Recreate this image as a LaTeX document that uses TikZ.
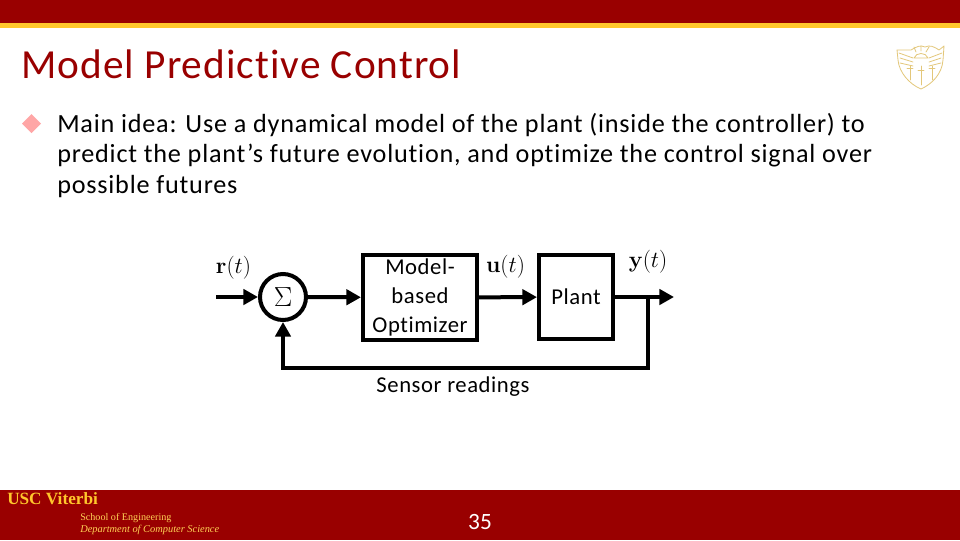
\documentclass[tikz,border=0pt]{standalone}
\usepackage[no-math]{fontspec}
\setmainfont[Ligatures=NoCommon]{Carlito}
\usetikzlibrary{arrows.meta,calc}
\definecolor{cardinal}{HTML}{990000}
\definecolor{usgold}{HTML}{FFC72C}
\definecolor{logogold}{HTML}{E3C77A}
\newfontfamily\serifx{Liberation Serif}
\newfontfamily\bodyf[LetterSpace=3,Ligatures=NoCommon]{Carlito}
\newfontfamily\titlef[LetterSpace=2.5,Ligatures=NoCommon]{Carlito}
\newfontfamily\labelf[LetterSpace=2.5,Ligatures=NoCommon]{Carlito}
\tikzset{
  blockbox/.style={draw=black,line width=3pt,minimum width=#1,inner sep=0pt,align=center,font=\labelf\fontsize{17}{22}\selectfont},
  sumnode/.style={circle,draw=black,line width=3pt,fill=white,minimum size=34.5pt,inner sep=0pt},
  conn/.style={line width=3pt,-{Triangle[length=11pt,width=11.5pt]}},
  bodytext/.style={anchor=base west,inner sep=0pt,font=\bodyf\fontsize{19.65}{19.65}\selectfont},
  labeltext/.style={inner sep=0pt,font=\labelf\fontsize{17}{17}\selectfont},
  mathlab/.style={inner sep=0pt,font=\fontsize{19}{19}\selectfont},
  logoline/.style={draw=logogold,line width=0.6pt,line join=round,line cap=round}
}
\begin{document}
\begin{tikzpicture}[x=0.75pt,y=-0.75pt]
\useasboundingbox (0,0) rectangle (960,540);
\fill[white] (0,0) rectangle (960,540);
% header
\fill[cardinal] (0,0) rectangle (960,23);
\fill[usgold] (0,23) rectangle (960,28);
% footer
\fill[cardinal] (0,490) rectangle (960,540);
% title
\node[anchor=base west,inner sep=0pt,text=cardinal,font=\titlef\fontsize{31}{31}\selectfont] (title) at (21,78) {Model Predictive Control};
% logo
\begin{scope}[logoline]
\draw (897,50) -- (911,50) .. controls (918,46) and (920,45) .. (925,47) .. controls (930,45) and (933,46) .. (939,50) -- (944,46) -- (943,60) .. controls (942,74) and (932,84) .. (921,89) .. controls (909,84) and (899,72) .. (898,60) -- cycle;
\draw (899,53) -- (913,58) (900,58) -- (913,62) (900,63) -- (913,66);
\draw (942,53) -- (929,58) (941,58) -- (929,62) (941,63) -- (929,66);
\draw (914,58) .. controls (916,52) and (926,52) .. (928,58) -- cycle;
\draw (916,52) -- (914,47) (921,51) -- (921,46) (926,52) -- (929,47);
\draw (910,66) -- (910,80) (921,66) -- (921,85) (932,66) -- (932,80);
\draw (907,68) -- (913,68) (918,70) -- (924,70) (929,68) -- (935,68);
\end{scope}
% bullet
\fill[fill=red!35!white] (31.5,114) -- (41,123.5) -- (31.5,133) -- (22,123.5) -- cycle;
% body
\node[bodytext] (l1) at (57,132) {Main idea: Use a dynamical model of the plant (inside the controller) to};
\node[bodytext] (l2) at (57,162) {predict the plant’s future evolution, and optimize the control signal over};
\node[bodytext] (l3) at (57,193) {possible futures};
% diagram
\node[sumnode] (sum) at (283,297) {\fontsize{21}{21}\selectfont$\Sigma$};
\node[blockbox=85.5pt,minimum height=63.5pt] (opt) at (420,297.5) {\raisebox{-1pt}{\parbox[c]{80pt}{\centering Model-\\based\\Optimizer}}};
\node[blockbox=55.5pt,minimum height=63pt] (plant) at (576,297) {\raisebox{-0.75pt}{Plant}};
\coordinate (in) at (216,297);
\coordinate (out) at (674,297);
\coordinate (junc) at (648,297);
\coordinate (fb) at (648,368);
\draw[conn] (in) -- (sum);
\draw[conn] (sum) -- (opt);
\draw[conn] (opt) -- (plant);
\draw[conn] (plant) -- (out);
\draw[conn,line join=miter] (junc) -- (fb) -| (sum.south);
\node[labeltext] (sensor) at (453,386.5) {Sensor readings};
\node[mathlab] (r) at (233.5,268) {$\mathbf{r}(t)$};
\node[mathlab] (u) at (505.5,267) {$\mathbf{u}(t)$};
\node[mathlab] (y) at (648,262) {$\mathbf{y}(t)$};
% footer text
\node[anchor=base west,inner sep=0pt,text=usgold,font=\serifx\bfseries\fontsize{12.9}{12.9}\selectfont] (usc) at (7,504) {USC Viterbi};
\node[anchor=base west,inner sep=0pt,text=usgold!80!white,font=\serifx\fontsize{7.6}{7.6}\selectfont] (school) at (80,520) {School of Engineering};
\node[anchor=base west,inner sep=0pt,text=usgold!80!white,font=\serifx\itshape\fontsize{7.8}{7.8}\selectfont] (dept) at (80,532) {Department of Computer Science};
\node[anchor=base,inner sep=0pt,text=white,font=\fontsize{17.5}{17.5}\selectfont] (page) at (480,529) {35};
\end{tikzpicture}
\end{document}
